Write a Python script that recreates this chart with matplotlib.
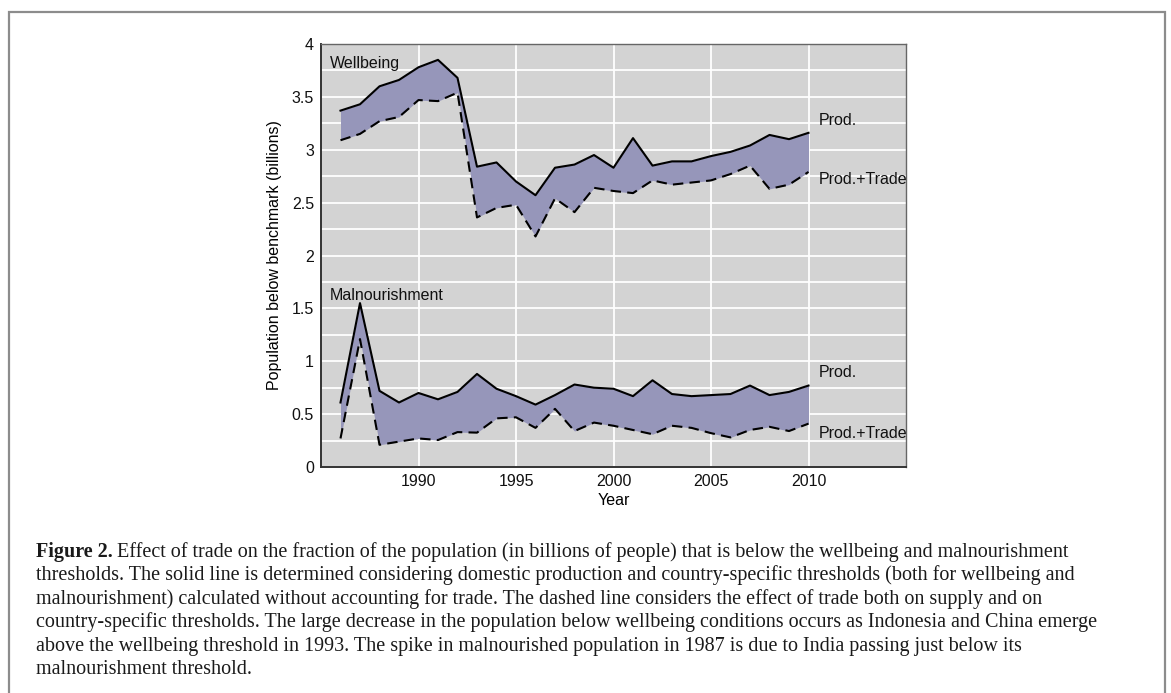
import matplotlib
matplotlib.use("Agg")
import matplotlib.pyplot as plt
from matplotlib.patches import Rectangle
from matplotlib.ticker import MultipleLocator

years = list(range(1986, 2011))
wellbeing_prod = [3.37, 3.43, 3.60, 3.66, 3.78, 3.85, 3.68, 2.84, 2.88, 2.70, 2.57, 2.83, 2.86, 2.95,
                  2.83, 3.11, 2.85, 2.89, 2.89, 2.94, 2.98, 3.04, 3.14, 3.10, 3.16]
wellbeing_trade = [3.09, 3.15, 3.27, 3.31, 3.47, 3.46, 3.54, 2.36, 2.45, 2.48, 2.18, 2.54, 2.41, 2.64,
                   2.61, 2.59, 2.71, 2.67, 2.69, 2.71, 2.77, 2.85, 2.63, 2.67, 2.79]
mal_prod = [0.61, 1.55, 0.72, 0.61, 0.70, 0.64, 0.71, 0.88, 0.74, 0.67, 0.59, 0.68, 0.78, 0.75,
            0.74, 0.67, 0.82, 0.69, 0.67, 0.68, 0.69, 0.77, 0.68, 0.71, 0.77]
mal_trade = [0.27, 1.21, 0.21, 0.24, 0.27, 0.255, 0.33, 0.325, 0.46, 0.47, 0.37, 0.55, 0.34, 0.42,
             0.39, 0.35, 0.31, 0.39, 0.37, 0.32, 0.28, 0.35, 0.38, 0.34, 0.41]
xticks = [1990, 1995, 2000, 2005, 2010]
yticks = [0, 0.5, 1, 1.5, 2, 2.5, 3, 3.5, 4]
ytick_labels = ["0", "0.5", "1", "1.5", "2", "2.5", "3", "3.5", "4"]

caption_lines = [
    "Effect of trade on the fraction of the population (in billions of people) that is below the wellbeing and malnourishment",
    "thresholds. The solid line is determined considering domestic production and country-specific thresholds (both for wellbeing and",
    "malnourishment) calculated without accounting for trade. The dashed line considers the effect of trade both on supply and on",
    "country-specific thresholds. The large decrease in the population below wellbeing conditions occurs as Indonesia and China emerge",
    "above the wellbeing threshold in 1993. The spike in malnourished population in 1987 is due to India passing just below its",
    "malnourishment threshold.",
]

W, H = 1171, 693
fig = plt.figure(figsize=(W / 100, H / 100), dpi=100)
fig.patch.set_facecolor("white")

# outer frame
fig.patches.append(Rectangle((9 / W, -0.01), (1165 - 9) / W, 1 - 12 / H + 0.01,
                             transform=fig.transFigure, fill=False,
                             edgecolor="#8c8c8c", linewidth=1.6))

ax = fig.add_axes([321 / W, 1 - 467 / H, (906 - 321) / W, (467 - 44) / H])
ax.set_facecolor("#d3d3d3")
ax.set_xlim(1985, 2015)
ax.set_ylim(0, 4)

ax.set_xticks(xticks)
ax.set_xticklabels([str(x) for x in xticks])
ax.set_yticks(yticks)
ax.set_yticklabels(ytick_labels)
ax.yaxis.set_minor_locator(MultipleLocator(0.25))
ax.grid(True, which="major", color="white", linewidth=1.3)
ax.grid(True, which="minor", axis="y", color="white", linewidth=1.3)
ax.set_axisbelow(True)
ax.tick_params(which="both", length=0, labelsize=11.5, pad=5, labelcolor="#111111")
for lab in ax.get_xticklabels() + ax.get_yticklabels():
    lab.set_family("Liberation Sans")

for s in ["left", "bottom"]:
    ax.spines[s].set_color("#333333")
    ax.spines[s].set_linewidth(1.4)
for s in ["top", "right"]:
    ax.spines[s].set_color("#666666")
    ax.spines[s].set_linewidth(1.0)

fill_col = "#9696ba"
ax.fill_between(years, wellbeing_trade, wellbeing_prod, color=fill_col, linewidth=0, zorder=2)
ax.fill_between(years, mal_trade, mal_prod, color=fill_col, linewidth=0, zorder=2)
ax.plot(years, wellbeing_prod, color="black", linewidth=1.5, zorder=3)
ax.plot(years, wellbeing_trade, color="black", linewidth=1.5, linestyle=(0, (5, 3)), zorder=3)
ax.plot(years, mal_prod, color="black", linewidth=1.5, zorder=3)
ax.plot(years, mal_trade, color="black", linewidth=1.5, linestyle=(0, (5, 3)), zorder=3)

tkw = dict(fontsize=11.5, family="Liberation Sans", color="#111111", va="center", ha="left")
ax.text(1985.46, 3.82, "Wellbeing", **tkw)
ax.text(1985.46, 1.62, "Malnourishment", **tkw)
ax.text(2010.5, 3.28, "Prod.", **tkw)
ax.text(2010.5, 2.72, "Prod.+Trade", **tkw)
ax.text(2010.5, 0.89, "Prod.", **tkw)
ax.text(2010.5, 0.32, "Prod.+Trade", **tkw)

ax.set_xlabel("Year", fontsize=11.5, family="Liberation Sans", labelpad=3)
ax.set_ylabel("Population below benchmark (billions)", fontsize=11.5, family="Liberation Sans", labelpad=7)

# caption
y0 = 552
fs = 14.5
for i, line in enumerate(caption_lines):
    y = 1 - (y0 + i * 23.5) / H
    if i == 0:
        t = fig.text(36 / W, y, "Figure 2.", fontsize=fs, family="Liberation Serif",
                     fontweight="bold", va="center", ha="left", color="#1a1a1a")
        fig.canvas.draw()
        bb = t.get_window_extent(renderer=fig.canvas.get_renderer())
        fig.text((bb.x1 + 4) / W, y, line, fontsize=fs, family="Liberation Serif",
                 va="center", ha="left", color="#1a1a1a")
    else:
        fig.text(36 / W, y, line, fontsize=fs, family="Liberation Serif",
                 va="center", ha="left", color="#1a1a1a")

fig.savefig("out.png", dpi=100)
